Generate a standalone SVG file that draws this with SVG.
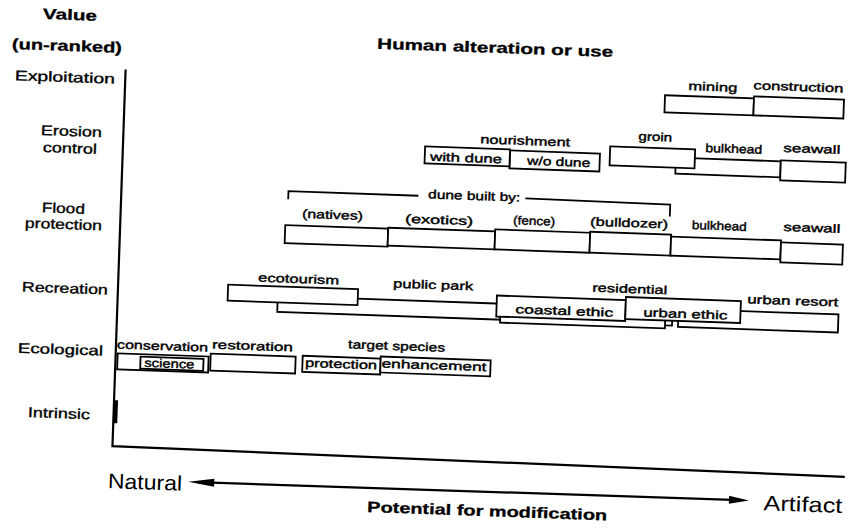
<svg xmlns="http://www.w3.org/2000/svg" width="850" height="529" viewBox="0 0 850 529">
<style>
text{font-family:"Liberation Sans",Arial,sans-serif;fill:#000;text-anchor:middle}
.t{font-size:15px;font-weight:bold;stroke:#000;stroke-width:0.3}
.row{font-size:14px;stroke:#000;stroke-width:0.35}
.lb{font-size:12px;stroke:#000;stroke-width:0.4}
.big{font-size:21px}
.box{fill:#fff;stroke:#000;stroke-width:1.8}
.ln{fill:none;stroke:#000;stroke-width:1.8}
.ax{fill:none;stroke:#000;stroke-width:2.2}
</style>
<rect width="850" height="529" fill="#fff"/>
<g transform="rotate(2 425 264)">
<g id="titles">
<text class="t" x="61.5" y="32.4" textLength="54" lengthAdjust="spacingAndGlyphs">Value</text>
<text class="t" x="59.6" y="63.5" textLength="110" lengthAdjust="spacingAndGlyphs">(un-ranked)</text>
<text class="t" x="487.6" y="50.5" textLength="236" lengthAdjust="spacingAndGlyphs">Human alteration or use</text>
<text class="t" x="495.8" y="513.8" textLength="240" lengthAdjust="spacingAndGlyphs">Potential for modification</text>
</g>
<g id="row-labels">
<text class="row" x="58.6" y="94.6" textLength="100" lengthAdjust="spacingAndGlyphs">Exploitation</text>
<text class="row" x="67" y="148.4" textLength="61" lengthAdjust="spacingAndGlyphs">Erosion</text>
<text class="row" x="66.1" y="165.4" textLength="54" lengthAdjust="spacingAndGlyphs">control</text>
<text class="row" x="61.7" y="225.7" textLength="43" lengthAdjust="spacingAndGlyphs">Flood</text>
<text class="row" x="62.3" y="241.7" textLength="77" lengthAdjust="spacingAndGlyphs">protection</text>
<text class="row" x="66" y="305.6" textLength="86" lengthAdjust="spacingAndGlyphs">Recreation</text>
<text class="row" x="63.7" y="366.8" textLength="85" lengthAdjust="spacingAndGlyphs">Ecological</text>
<text class="row" x="64.4" y="430.8" textLength="62" lengthAdjust="spacingAndGlyphs">Intrinsic</text>
</g>
<g id="connectors">
<path class="ax" d="M119 80 L119 457 L852 462"/>
<rect x="118.5" y="411" width="4.5" height="23" fill="#000"/>
<path class="ax" d="M205 490 L748 489"/>
<polygon points="196,490 222,486 222,494" fill="#000"/>
<polygon points="757,489 737,485 737,493" fill="#000"/>
<path class="ln" d="M286 204 L286 196 L416 196 M523 195 L668 196 L668 208"/>
</g>
<g id="axis-labels">
<text class="big" x="115.8" y="499" style="text-anchor:start" textLength="74" lengthAdjust="spacingAndGlyphs">Natural</text>
<text class="big" x="771.6" y="498.2" style="text-anchor:start" textLength="79" lengthAdjust="spacingAndGlyphs">Artifact</text>
</g>
<g id="exploitation">
<g id="mining"><rect class="box" x="659" y="87" width="89" height="17"/><text class="lb" x="706.5" y="81" textLength="49" lengthAdjust="spacingAndGlyphs">mining</text></g>
<g id="construction"><rect class="box" x="748" y="85" width="90" height="19"/><text class="lb" x="792" y="78" textLength="90" lengthAdjust="spacingAndGlyphs">construction</text></g>
</g>
<g id="erosion">
<g id="bulkhead-e"><rect class="box" x="672" y="149" width="105" height="16"/><text class="lb" x="729.6" y="142.2" textLength="57" lengthAdjust="spacingAndGlyphs">bulkhead</text></g>
<g id="seawall-e"><rect class="box" x="777" y="148" width="65" height="20"/><text class="lb" x="807.6" y="139.5" textLength="57" lengthAdjust="spacingAndGlyphs">seawall</text></g>
<g id="nourishment"><text class="lb" x="520.9" y="141.5" textLength="90" lengthAdjust="spacingAndGlyphs">nourishment</text></g>
<g id="wo-dune"><rect class="box" x="506" y="147.5" width="90" height="18"/><text class="lb" x="555.1" y="161.3" textLength="63" lengthAdjust="spacingAndGlyphs">w/o dune</text></g>
<g id="with-dune"><rect class="box" x="421" y="146.5" width="85" height="17"/><text class="lb" x="462.4" y="160.6" textLength="72" lengthAdjust="spacingAndGlyphs">with dune</text></g>
<g id="groin"><rect class="box" x="606" y="140" width="85" height="19"/><text class="lb" x="650.7" y="133" textLength="34" lengthAdjust="spacingAndGlyphs">groin</text></g>
</g>
<g id="flood">
<text class="lb" x="471.8" y="198.3" textLength="92" lengthAdjust="spacingAndGlyphs">dune built by:</text>
<g id="natives"><rect class="box" x="284" y="230" width="103" height="18"/><text class="lb" x="330.9" y="222.2" textLength="61" lengthAdjust="spacingAndGlyphs">(natives)</text></g>
<g id="exotics"><rect class="box" x="387" y="229" width="107" height="18"/><text class="lb" x="437.6" y="223.5" textLength="68" lengthAdjust="spacingAndGlyphs">(exotics)</text></g>
<g id="fence"><rect class="box" x="494" y="227" width="95" height="20"/><text class="lb" x="532.6" y="221.2" textLength="42" lengthAdjust="spacingAndGlyphs">(fence)</text></g>
<g id="bulldozer"><rect class="box" x="589" y="226" width="81" height="21"/><text class="lb" x="627.7" y="219.9" textLength="78" lengthAdjust="spacingAndGlyphs">(bulldozer)</text></g>
<g id="bulkhead-f"><rect class="box" x="670" y="228" width="110" height="19"/><text class="lb" x="717.8" y="219.7" textLength="55" lengthAdjust="spacingAndGlyphs">bulkhead</text></g>
<g id="seawall-f"><rect class="box" x="780" y="230" width="62" height="20"/><text class="lb" x="810.4" y="218.5" textLength="57" lengthAdjust="spacingAndGlyphs">seawall</text></g>
</g>
<g id="recreation">
<g id="public-park"><rect class="box" x="279" y="301" width="395" height="16"/><text class="lb" x="433.9" y="288.7" textLength="80" lengthAdjust="spacingAndGlyphs">public park</text></g>
<g id="ecotourism"><rect class="box" x="229" y="291.5" width="130" height="16"/><text class="lb" x="299.2" y="287.4" textLength="81" lengthAdjust="spacingAndGlyphs">ecotourism</text></g>
<g id="urban-resort"><rect class="box" x="680" y="300" width="160" height="18"/><text class="lb" x="793.9" y="292.1" textLength="91" lengthAdjust="spacingAndGlyphs">urban resort</text></g>
<g id="residential"><rect class="box" x="502" y="296" width="165" height="24"/><text class="lb" x="630.5" y="285.8" textLength="75" lengthAdjust="spacingAndGlyphs">residential</text></g>
<g id="coastal-ethic"><rect class="box" x="498" y="293" width="129" height="21"/><text class="lb" x="565.8" y="310.1" textLength="98" lengthAdjust="spacingAndGlyphs">coastal ethic</text></g>
<g id="urban-ethic"><rect class="box" x="627" y="290" width="115" height="22"/><text class="lb" x="686.9" y="308.9" textLength="84" lengthAdjust="spacingAndGlyphs">urban ethic</text></g>
</g>
<g id="ecological">
<g id="conservation"><rect class="box" x="121" y="364" width="91" height="16"/><text class="lb" x="165.5" y="359.2" textLength="91" lengthAdjust="spacingAndGlyphs">conservation</text></g>
<g id="science"><rect class="box" x="144" y="366.5" width="63" height="12"/><text class="lb" x="173" y="376.5" textLength="50" lengthAdjust="spacingAndGlyphs">science</text></g>
<g id="restoration"><rect class="box" x="214" y="361" width="85" height="17"/><text class="lb" x="255.5" y="356" textLength="81" lengthAdjust="spacingAndGlyphs">restoration</text></g>
<text class="lb" x="399.6" y="351" textLength="97" lengthAdjust="spacingAndGlyphs">target species</text>
<g id="protection"><rect class="box" x="306" y="360" width="78" height="16"/><text class="lb" x="344.6" y="371" textLength="72" lengthAdjust="spacingAndGlyphs">protection</text></g>
<g id="enhancement"><rect class="box" x="384" y="358" width="110" height="16"/><text class="lb" x="437.6" y="369" textLength="105" lengthAdjust="spacingAndGlyphs">enhancement</text></g>
</g>
</g>
</svg>
